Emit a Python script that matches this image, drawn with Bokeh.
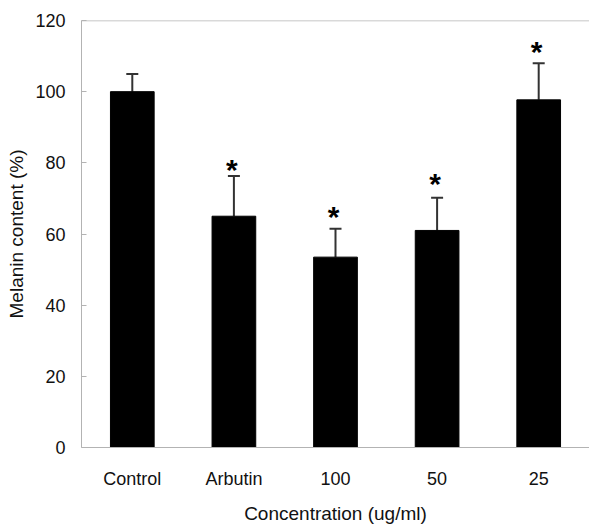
from bokeh.plotting import figure
from bokeh.models import ColumnDataSource, FactorRange, Range1d, Whisker, TeeHead, Span
from bokeh.core.properties import value
from bokeh.embed import file_html
from bokeh.resources import INLINE

# ---- data ----
categories = ["Control", "Arbutin", "100", "50", "25"]
means = [100.0, 65.0, 53.5, 61.0, 97.7]
errors = [5.0, 11.3, 8.0, 9.2, 10.3]
star_categories = ["Arbutin", "100", "50", "25"]
star_y = [79.8, 66.7, 76.0, 113.0]
y_ticks = [0, 20, 40, 60, 80, 100, 120]
y_max = 120

FONT = "Liberation Sans"
GRAY = "#b3b3b3"

upper = [m + e for m, e in zip(means, errors)]
src = ColumnDataSource(data=dict(cat=categories, mean=means, upper=upper))
star_src = ColumnDataSource(data=dict(cat=star_categories, y=star_y, t=["*"] * len(star_y)))

p = figure(
    x_range=FactorRange(factors=categories, range_padding=0),
    y_range=Range1d(0, y_max),
    width=589, height=526,
    output_backend="svg", toolbar_location=None,
    min_border_left=81, min_border_top=20, min_border_right=0, min_border_bottom=20,
)

p.vbar(x="cat", top="mean", bottom=0, width=0.43, source=src,
       fill_color="black", line_color="black")

w = Whisker(base="cat", lower="mean", upper="upper", source=src,
            line_color="#333333", line_width=2,
            upper_head=TeeHead(size=12, line_color="#333333", line_width=2),
            lower_head=None)
p.add_layout(w)

p.text(x="cat", y="y", text="t", source=star_src,
       text_font=value(FONT), text_font_style="bold", text_font_size="30px",
       text_align="center", text_baseline="middle", x_offset=-2, y_offset=6,
       text_color="black")

# frame / axes: top line only (no right border, as in the reference)
p.outline_line_color = None
p.add_layout(Span(location=y_max, dimension="width", line_color=GRAY, line_width=1.5))
p.xgrid.visible = False
p.ygrid.visible = False

p.yaxis.ticker = y_ticks
p.yaxis.axis_line_color = GRAY
p.yaxis.major_tick_line_color = GRAY
p.yaxis.major_tick_in = 5
p.yaxis.major_tick_out = 0
p.yaxis.minor_tick_line_color = None
p.yaxis.major_label_standoff = 16
p.yaxis.major_label_text_font = FONT
p.yaxis.major_label_text_font_size = "18px"
p.yaxis.major_label_text_color = "#111111"
p.yaxis.axis_label = "Melanin content (%)"
p.yaxis.axis_label_text_font = FONT
p.yaxis.axis_label_text_font_size = "19px"
p.yaxis.axis_label_text_font_style = "normal"
p.yaxis.axis_label_text_color = "#111111"
p.yaxis.axis_label_standoff = 5

p.xaxis.axis_line_color = GRAY
p.xaxis.major_tick_line_color = None
p.xaxis.major_tick_in = 0
p.xaxis.major_tick_out = 0
p.xaxis.major_label_standoff = 21
p.xaxis.major_label_text_font = FONT
p.xaxis.major_label_text_font_size = "18px"
p.xaxis.major_label_text_color = "#111111"
p.xaxis.axis_label = "Concentration (ug/ml)"
p.xaxis.axis_label_text_font = FONT
p.xaxis.axis_label_text_font_size = "19px"
p.xaxis.axis_label_text_font_style = "normal"
p.xaxis.axis_label_text_color = "#111111"
p.xaxis.axis_label_standoff = 11

open("out.html", "w").write(file_html(p, INLINE))
